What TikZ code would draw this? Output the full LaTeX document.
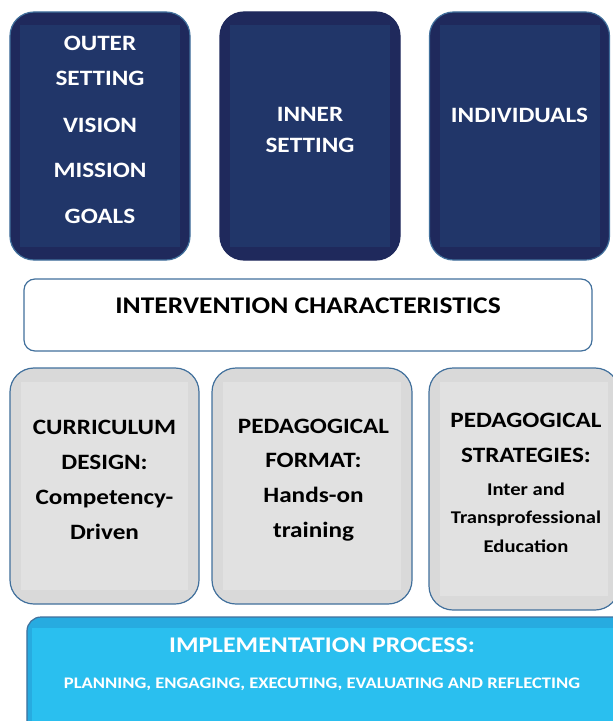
\documentclass[tikz,border=0pt]{standalone}
\usepackage{fontspec}
\setmainfont{Carlito}[FakeStretch=1.15]
\definecolor{navyedge}{HTML}{1F295C}
\definecolor{navyfill}{HTML}{213669}
\definecolor{rimblue}{HTML}{41709C}
\definecolor{greyedge}{HTML}{D9D9D9}
\definecolor{greyfill}{HTML}{E1E1E1}
\definecolor{skyedge}{HTML}{27ABE0}
\definecolor{skyfill}{HTML}{2ABFEF}

\begin{document}
\begin{tikzpicture}[x=1bp, y=-1bp,
  box/.style={rounded corners=24bp, minimum width=#1, inner sep=0pt, line width=1.2bp},
  inset/.style n args={3}{path picture={\fill[#1, sharp corners] ([xshift=#2,yshift=-#3]path picture bounding box.north west)
     rectangle ([xshift=-#2,yshift=#3]path picture bounding box.south east);}},
  navybox/.style={box=180bp, minimum height=248bp, fill=navyedge, draw=rimblue, inset={navyfill}{10bp}{13bp},
     text=white, font=\fontsize{22}{35}\selectfont\bfseries, align=center},
  greybox/.style={box=#1, minimum height=236bp, fill=greyedge, draw=rimblue, inset={greyfill}{11bp}{14bp},
     font=\fontsize{22}{35}\selectfont\bfseries, align=center}]
\useasboundingbox (0,0) rectangle (613,721);
\clip (0,0) rectangle (613,721);

% top row
\node[navybox] (outer) at (100,136) {};
\node[white, font=\fontsize{22}{35}\selectfont\bfseries, align=center] (outertxt) at (100,130)
  {OUTER\\SETTING\\[12bp]VISION\\[11bp]MISSION\\[11bp]GOALS};
\node[navybox, draw=navyedge] (inner) at (310,136) {};
\node[navybox] (indiv) at (519.5,136) {};
\node[white, font=\fontsize{22}{31}\selectfont\bfseries, align=center] (innertxt) at (inner.center |- 0,130) {INNER\\SETTING};
\node[white, font=\fontsize{22}{31}\selectfont\bfseries] (indivtxt) at (indiv.center |- 0,115) {INDIVIDUALS};

% middle band
\node[box=568bp, minimum height=72bp, rounded corners=11bp, fill=white, draw=rimblue] (interv) at (308,315) {};
\node[font=\fontsize{24}{28}\selectfont\bfseries] (intervtxt) at (308,305.5) {INTERVENTION CHARACTERISTICS};

% bottom row
\node[greybox=189bp] (curric) at (104.5,486) {};
\node[font=\fontsize{22}{35}\selectfont\bfseries, align=center] (currictxt) at (104.5,480) {CURRICULUM\\DESIGN:\\Competency-\\Driven};
\node[greybox=200bp] (format) at (312,486) {};
\node[font=\fontsize{22}{35}\selectfont\bfseries, align=center] (formattxt) at (313.5,480) {PEDAGOGICAL\\FORMAT:\\Hands-on\\training};
\node[greybox=190bp, minimum height=242bp] (strat) at (524,489) {};
\node[font=\fontsize{22}{35}\selectfont\bfseries, align=center] (strattop) at (526,438) {PEDAGOGICAL\\STRATEGIES:};
\node[font=\fontsize{18}{28.5}\selectfont\bfseries, align=center] (stratsub) at (526,517.5) {Inter and\\Transprofessional\\Education};

% implementation
\node[box=600bp, minimum height=120bp, rounded corners=14bp, fill=skyedge, draw=rimblue, inset={skyfill}{5bp}{11bp}] (impl) at (327,677) {};
\node[white, font=\fontsize{22.5}{27}\selectfont\bfseries] (impltitle) at (322,645.5) {IMPLEMENTATION PROCESS:};
\node[white, font=\fontsize{16.2}{20}\selectfont\bfseries] (implsub) at (322,684) {PLANNING, ENGAGING, EXECUTING, EVALUATING AND REFLECTING};
\end{tikzpicture}
\end{document}
